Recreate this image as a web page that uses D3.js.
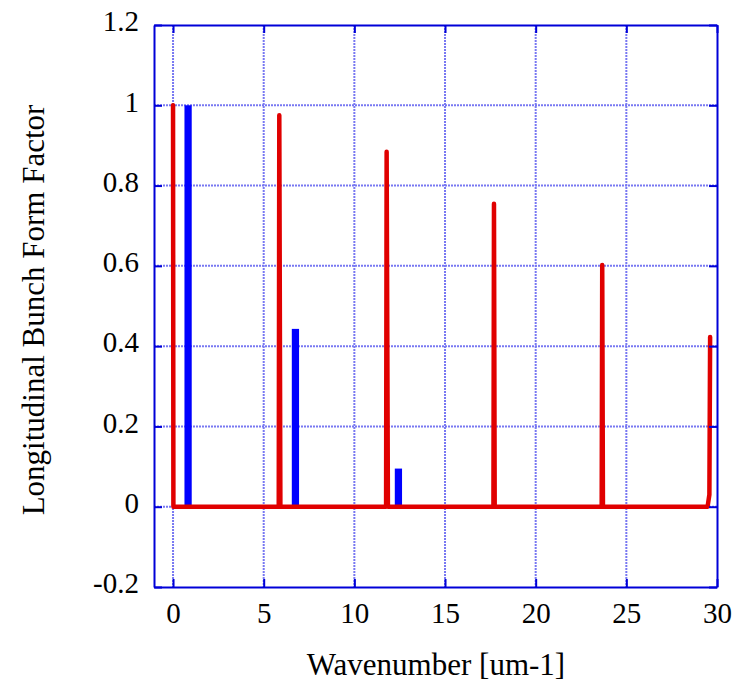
<!DOCTYPE html>
<html>
<head>
<meta charset="utf-8">
<script src="https://cdn.jsdelivr.net/npm/d3@7"></script>
<style>
  body { margin: 0; background: #fff; overflow: hidden; }
  svg { display: block; }
  text { font-family: "Liberation Serif", "Times New Roman", serif; fill: #000; }
</style>
</head>
<body>
<svg width="740" height="686"></svg>
<script>
// red curve: form factor vs wavenumber
const redX = [0, 0.02, 5.83, 5.86, 5.92, 11.75, 11.78, 11.85, 17.67, 17.7, 17.74, 23.64, 23.67, 23.71, 29.48, 29.58, 29.62];
const redY = [1.0, 0, 0, 0.975, 0, 0, 0.884, 0, 0, 0.755, 0, 0, 0.602, 0, 0, 0.03, 0.423];

// blue bars
const barX = [0.83, 6.75, 12.43];
const barY = [1.0, 0.443, 0.095];

const xTicks = [0, 5, 10, 15, 20, 25, 30];
const yTicks = [-0.2, 0, 0.2, 0.4, 0.6, 0.8, 1, 1.2];

const svg = d3.select('svg');
const margin = { top: 25, right: 23, bottom: 99, left: 154 };
const width = +svg.attr('width');
const height = +svg.attr('height');
const innerWidth = width - margin.left - margin.right;
const innerHeight = height - margin.top - margin.bottom;

const xscale = d3.scaleLinear().domain([-1.05, 30]).range([0, innerWidth]);
const yscale = d3.scaleLinear().domain([-0.2, 1.2]).range([innerHeight, 0]);

const g = svg.append('g').attr('transform', `translate(${margin.left},${margin.top})`);

// grid
const gridColor = '#7878f2';
g.append('g').selectAll('line').data(xTicks.filter(d => d > -1 && d < 30)).enter().append('line')
  .attr('x1', d => xscale(d)).attr('x2', d => xscale(d))
  .attr('y1', 0).attr('y2', innerHeight)
  .attr('stroke', gridColor).attr('stroke-width', 2).attr('stroke-dasharray', '2,1');
g.append('g').selectAll('line').data(yTicks.filter(d => d > -0.2 && d < 1.2)).enter().append('line')
  .attr('y1', d => yscale(d)).attr('y2', d => yscale(d))
  .attr('x1', 0).attr('x2', innerWidth)
  .attr('stroke', gridColor).attr('stroke-width', 2).attr('stroke-dasharray', '2,1');

// blue bars
const barW = xscale(0.4) - xscale(0);
g.selectAll('rect.bar').data(barX).enter().append('rect')
  .attr('class', 'bar')
  .attr('x', (d) => xscale(d) - barW / 2)
  .attr('y', (d, i) => yscale(barY[i]))
  .attr('width', barW)
  .attr('height', (d, i) => yscale(0) - yscale(barY[i]))
  .attr('fill', '#0000ff');

// red line
const pts = redX.map((x, i) => [x, redY[i]]);
g.append('path').datum(pts)
  .attr('d', d3.line().x(d => xscale(d[0])).y(d => yscale(d[1])))
  .attr('fill', 'none').attr('stroke', '#e00000').attr('stroke-width', 4.5)
  .attr('stroke-linejoin', 'round').attr('stroke-linecap', 'round');

// frame with inward ticks
const axisColor = '#0000d8';
const axBottom = g.append('g').attr('transform', `translate(0,${innerHeight})`)
  .call(d3.axisBottom(xscale).tickValues(xTicks).tickSizeInner(-8).tickSizeOuter(0).tickFormat(d => String(d)));
const axLeft = g.append('g')
  .call(d3.axisLeft(yscale).tickValues(yTicks).tickSizeInner(-8).tickSizeOuter(0).tickPadding(15).tickFormat(d => String(d)));
const axTop = g.append('g')
  .call(d3.axisTop(xscale).tickValues(xTicks).tickSizeInner(-8).tickSizeOuter(0));
const axRight = g.append('g').attr('transform', `translate(${innerWidth},0)`)
  .call(d3.axisRight(yscale).tickValues(yTicks).tickSizeInner(-8).tickSizeOuter(0));
axTop.selectAll('.tick text').remove();
axRight.selectAll('.tick text').remove();

[axBottom, axLeft, axTop, axRight].forEach(a => {
  a.attr('font-size', null).attr('font-family', null);
  a.select('.domain').attr('stroke', axisColor).attr('stroke-width', 2);
  a.selectAll('.tick line').attr('stroke', axisColor).attr('stroke-width', 2);
  a.selectAll('.tick text').style('font-family', '"Liberation Serif", serif').style('font-size', '29px').attr('fill', '#000');
});
axBottom.selectAll('.tick text').attr('y', 36).attr('dy', 0);
axLeft.selectAll('.tick text').attr('dy', '0.2em');

// axis titles
svg.append('text')
  .attr('x', 436).attr('y', 675)
  .attr('text-anchor', 'middle').style('font-size', '31px')
  .text('Wavenumber [um-1]');
svg.append('text')
  .attr('transform', 'translate(44,310) rotate(-90)')
  .attr('text-anchor', 'middle').style('font-size', '31px')
  .text('Longitudinal Bunch Form Factor');
</script>
</body>
</html>
